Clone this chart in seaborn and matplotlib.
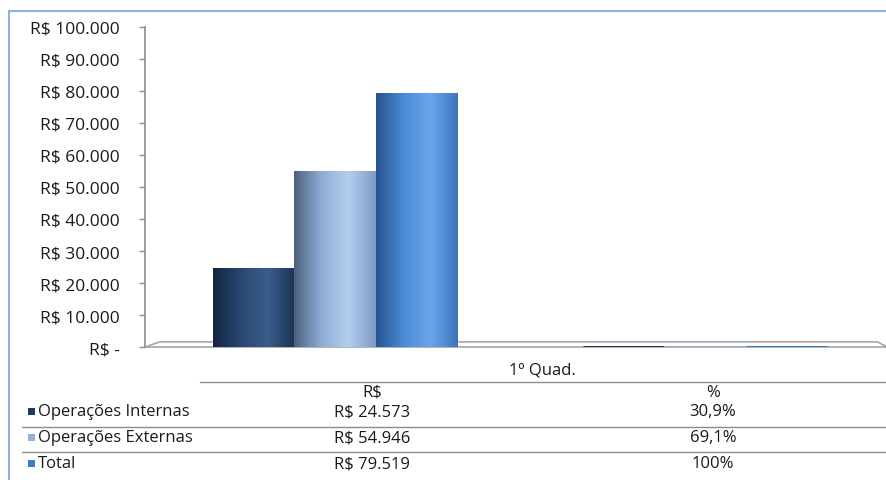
import numpy as np
import pandas as pd
import matplotlib
matplotlib.use("Agg")
import matplotlib.pyplot as plt
from matplotlib.patches import Rectangle, Polygon
from matplotlib.lines import Line2D
from matplotlib.colors import LinearSegmentedColormap
import seaborn as sns

# data
colunas = ["R$", "%"]
series = ["Operações Internas", "Operações Externas", "Total"]
valores_rs = [24573, 54946, 79519]
valores_pct = [0.309, 0.691, 1.0]
rotulos_rs = ["R$ 24.573", "R$ 54.946", "R$ 79.519"]
rotulos_pct = ["30,9%", "69,1%", "100%"]
yticks = [0, 10000, 20000, 30000, 40000, 50000, 60000, 70000, 80000, 90000, 100000]
grupo = "1º Quad."

cores = ["#1F3961", "#93B1D9", "#3F7CC8"]
gradientes = [
    ["#13243F", "#2A4770", "#3B5D8C", "#1C3355"],
    ["#4E617E", "#8FADD6", "#B4CDEE", "#7F9CC6"],
    ["#24538E", "#4D8AD6", "#6AA6EC", "#3C74BE"],
]

df = pd.DataFrame({
    "coluna": [c for c in colunas for _ in series],
    "serie": series * len(colunas),
    "valor": valores_rs + valores_pct,
})

sns.set_theme(style="white")
plt.rcParams["font.family"] = ["Open Sans", "DejaVu Sans"]

W, H = 887, 481
fig = plt.figure(figsize=(W / 100, H / 100), dpi=100)


def fx(px):
    return px / W


def fy(py):
    return 1 - py / H


ax = fig.add_axes([fx(145), fy(348), fx(885) - fx(145), fy(28) - fy(348)])

sns.barplot(data=df, x="coluna", y="valor", hue="serie", hue_order=series,
            palette=cores, width=0.66, ax=ax, legend=False, zorder=3)

# cylinder-like shading on each bar
for i, p in enumerate(ax.patches):
    k = i // len(colunas)
    x0, w, h = p.get_x(), p.get_width(), p.get_height()
    if h < 1000:
        p.set_edgecolor(cores[k])
        p.set_linewidth(2.2)
        continue
    cmap = LinearSegmentedColormap.from_list("g%d" % i, gradientes[k])
    grad = np.linspace(0, 1, 200).reshape(1, -1)
    im = ax.imshow(grad, cmap=cmap, extent=[x0, x0 + w, 0, h],
                   aspect="auto", zorder=4)
    im.set_clip_path(p)

ax.set_xlim(-0.513, 1.487)
ax.set_ylim(0, 100000)
ax.set_yticks(yticks)
ax.set_yticklabels(["R$ -" if v == 0 else "R$ " + f"{v:,}".replace(",", ".")
                    for v in yticks])
ax.set_xticks([])
ax.set_xlabel("")
ax.set_ylabel("")
for s in ["top", "right", "bottom"]:
    ax.spines[s].set_visible(False)
ax.spines["left"].set_color("#8C8C8C")
ax.spines["left"].set_linewidth(1.2)
ax.tick_params(axis="y", left=True, length=4, width=1, color="#8C8C8C",
               pad=14, labelsize=12.5, labelcolor="#1A1A1A")

# 3D floor
floor = Polygon([(0, 0), (0.02, 0.016), (0.99, 0.016), (1.003, 0.0)],
                closed=True, transform=ax.transAxes, facecolor="white",
                edgecolor="#A6A6A6", linewidth=1.2, clip_on=False, zorder=2)
ax.add_patch(floor)

# chart border (top and left only, the rest is cut off)
borda = "#8DB3E2"
fig.add_artist(Line2D([fx(9), 1], [fy(12), fy(12)], color=borda, lw=1.5))
fig.add_artist(Line2D([fx(9), fx(9)], [0, fy(12)], color=borda, lw=1.5))

# data table
linha_cor = "#8C8C8C"
fig.add_artist(Line2D([fx(200), 1], [fy(383), fy(383)], color=linha_cor, lw=1))
fig.add_artist(Line2D([fx(22), 1], [fy(428), fy(428)], color=linha_cor, lw=1))
fig.add_artist(Line2D([fx(22), 1], [fy(453), fy(453)], color=linha_cor, lw=1))

txt = dict(fontsize=12, color="#1A1A1A", va="center")
fig.text(fx(542), fy(371), grupo, ha="center", **txt)
fig.text(fx(372), fy(393), colunas[0], ha="center", **txt)
fig.text(fx(713), fy(393), colunas[1], ha="center", **txt)

linhas_y = [412, 438, 464]
for k, nome in enumerate(series):
    y = linhas_y[k]
    fig.add_artist(Rectangle((fx(28), fy(y + 3.5)), fx(7), 7 / H,
                             transform=fig.transFigure, facecolor=cores[k],
                             edgecolor="none"))
    fig.text(fx(38), fy(y), nome, ha="left", **txt)
    fig.text(fx(372), fy(y), rotulos_rs[k], ha="center", **txt)
    fig.text(fx(713), fy(y), rotulos_pct[k], ha="center", **txt)

fig.savefig("out.png", dpi=100)
